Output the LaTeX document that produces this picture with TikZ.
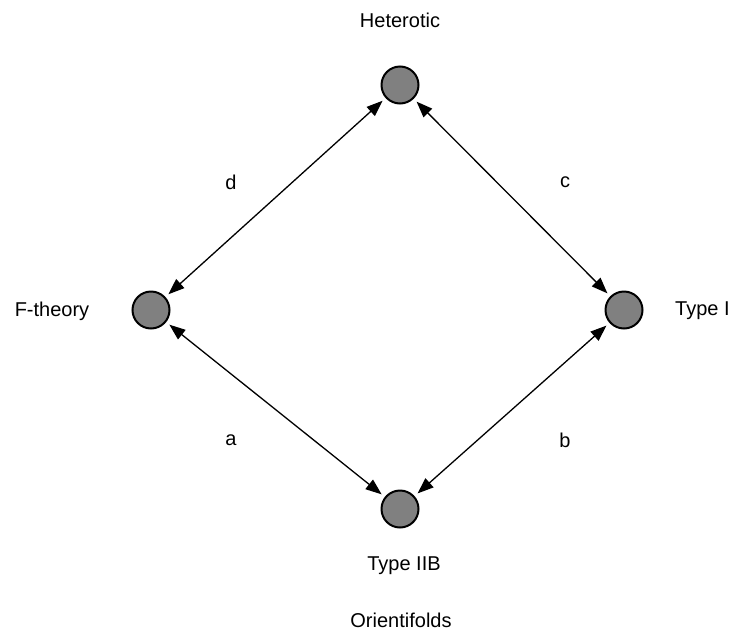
\documentclass[tikz,border=0pt]{standalone}
\usepackage{fontspec}
\setmainfont{Liberation Sans}
\usetikzlibrary{arrows.meta}
\begin{document}
\begin{tikzpicture}[x=1pt,y=-1pt,
  theory/.style={circle,draw=black,line width=2pt,fill=black!50,minimum size=37pt,inner sep=0pt,outer sep=5pt},
  lbl/.style={font=\fontsize{20}{23}\selectfont,inner sep=0pt},
  link/.style={line width=1.3pt,{Triangle[length=16pt,width=12pt]}-{Triangle[length=16pt,width=12pt]}}]
\useasboundingbox (0,0) rectangle (736,635);
\node[theory] (het) at (400,85) {};
\node[theory] (ft) at (151,310) {};
\node[theory] (t1) at (624,310) {};
\node[theory] (t2b) at (400,509) {};
\node[lbl] (lhet) at (400,20) {Heterotic};
\node[lbl] (lft) at (52,311) {F-theory};
\node[lbl,anchor=west] (lt1) at (675,311) {Type I};
\node[lbl] (lt2b) at (404,566) {Type IIB};
\node[lbl] (lori) at (401,620) {Orientifolds};
\draw[link] (ft) -- (het);
\draw[link] (het) -- (t1);
\draw[link] (ft) -- (t2b);
\draw[link] (t2b) -- (t1);
\node[lbl] (ld) at (231,182) {d};
\node[lbl] (lc) at (565,182) {c};
\node[lbl] (la) at (231,440) {a};
\node[lbl] (lb) at (565,440) {b};
\end{tikzpicture}
\end{document}
